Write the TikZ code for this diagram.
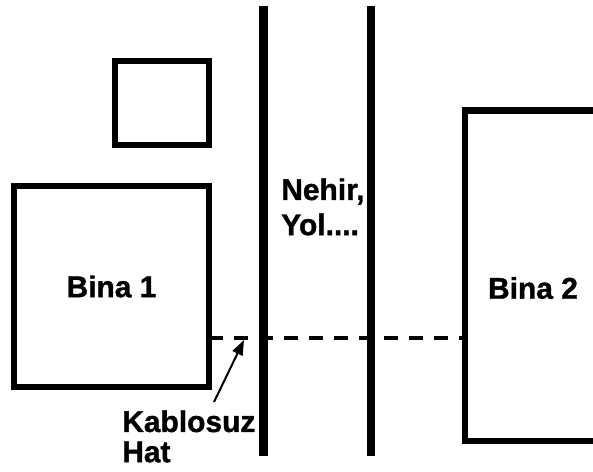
\documentclass[tikz,border=0pt]{standalone}
\usepackage{fontspec}
\setmainfont[BoldFeatures={FakeBold=1.2}]{Liberation Sans}
\usetikzlibrary{arrows.meta,positioning}
\newdimen\px \px=0.25mm
\tikzset{
  plan/building/.style={
    draw=black, line width=6.5\px, fill=white, inner sep=0pt, outer sep=0pt
  },
  plan/river/.style={draw=black, line width=8.5\px},
  plan/link/.style={
    draw=black, line width=4.5\px, dash pattern=on 14\px off 11\px
  },
  plan/arrow/.style={
    -{Triangle[length=3.75mm,width=2.75mm]}, line width=.5mm, draw=black
  },
  plan/label/.style={
    font=\fontsize{21.3pt}{25pt}\selectfont\bfseries, inner sep=0pt
  }
}

\begin{document}
\begin{tikzpicture}[x=1\px, y=-1\px]
  \useasboundingbox[fill=white] (0,0) rectangle (593,472);
  % buildings
  \node[plan/building,minimum width=94\px,minimum height=84\px] (annex) at (162,103) {};
  \node[plan/building,plan/label,minimum width=195\px,minimum height=201\px] (bina1) at (111.5,286.5) {Bina 1};
  \node[plan/building,minimum width=132\px,minimum height=330.5\px] (bina2) at (531,275.75) {};
  \node[plan/label] (bina2lbl) at (533,288) {Bina 2};
  % river / road banks
  \coordinate (bankAtop) at (263.5,6);
  \coordinate (bankAbot) at (263.5,456);
  \coordinate (bankBtop) at (371,6);
  \coordinate (bankBbot) at (371,456);
  \draw[plan/river] (bankAtop) -- (bankAbot);
  \draw[plan/river] (bankBtop) -- (bankBbot);
  \node[plan/label,align=left,anchor=north west,
    font=\fontsize{21.3pt}{25pt}\selectfont\bfseries] (nehir) at (281,178) {Nehir,\\Yol....};
  % wireless link
  \coordinate (wire) at (0,338);
  \draw[plan/link] (bina1.east |- wire) -- (bina2.west |- wire);
  \node[plan/label,align=left,anchor=north west,
    font=\fontsize{21.3pt}{21.5pt}\selectfont\bfseries] (kablosuz) at (122,410) {Kablosuz\\Hat};
  \coordinate (hit) at (244,340);
  \draw[plan/arrow] ([shift={(92,-8)}]kablosuz.north west) -- (hit);
\end{tikzpicture}
\end{document}
